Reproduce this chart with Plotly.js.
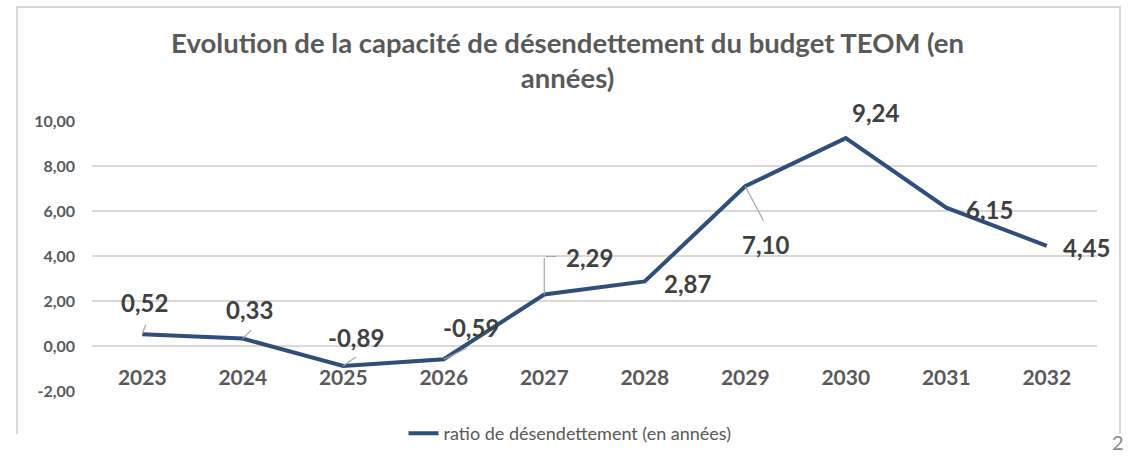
<!DOCTYPE html>
<html>
<head>
<meta charset="utf-8">
<script src="https://cdn.plot.ly/plotly-3.0.1.min.js"></script>
<style>
  html, body { margin: 0; padding: 0; background: #ffffff; }
  #wrap { position: relative; width: 1129px; height: 457px; overflow: hidden; }
  #chart { position: absolute; left: 0; top: 0; width: 1129px; height: 457px; }
  #frame { position: absolute; left: 16px; top: 6px; width: 1101px; height: 426px;
           border: 2px solid #d9d9d9; border-bottom: none; pointer-events: none; }
  #pagenum { position: absolute; left: 1112px; top: 432px; font-family: Lato, sans-serif;
             font-size: 20px; color: #8a8a8a; line-height: 20px; }
  #err { position: absolute; left: 100px; top: 150px; color: red; font-size: 12px; }
</style>
</head>
<body>
<div id="wrap">
  <div id="chart"></div>
  <div id="frame"></div>
  <div id="pagenum">2</div>
  <div id="err"></div>
</div>
<script>
// ---- data ----
const years = ['2023', '2024', '2025', '2026', '2027', '2028', '2029', '2030', '2031', '2032'];
const ratio = [0.52, 0.33, -0.89, -0.59, 2.29, 2.87, 7.10, 9.24, 6.15, 4.45];
const seriesName = 'ratio de désendettement (en années)';
const titleText = 'Evolution de la capacité de désendettement du budget TEOM (en<br>années)';
const yTicks = [-2, 0, 2, 4, 6, 8, 10];

// ---- styling (label placement in pixels) ----
const labelShift = [[2, 32], [7, 29], [13, 29], [27, 32], [45, 37], [43, -2], [20, -58], [30, 26], [43, -2], [40, -2]];
const leader = [[4, -11], [10, -10], [14, -10], [25, -12], [0, -38], null, [19, 36], null, null, null];

const yMin = -2, yMax = 10;
const fmt = v => v.toFixed(2).replace('.', ',');

const FONT = 'Lato, "Open Sans", sans-serif';
const LINE_COLOR = '#2f4e7a';
const GRID = '#d9d9d9';
const LEADER = '#a6a6a6';

const trace = {
  type: 'scatter', mode: 'lines', x: years, y: ratio, name: seriesName,
  line: { color: LINE_COLOR, width: 4 }, hoverinfo: 'skip'
};

const annotations = [];
ratio.forEach((v, i) => {
  // x given as the category index on the category axis
  annotations.push({
    x: i, y: v, xref: 'x', yref: 'y', text: '<b>' + fmt(v) + '</b>', showarrow: false,
    xshift: labelShift[i][0], yshift: labelShift[i][1],
    font: { family: FONT, size: 24, color: '#404040' }
  });
  if (leader[i]) {
    annotations.push({
      x: i, y: v, xref: 'x', yref: 'y', text: '', showarrow: true,
      arrowhead: 0, arrowwidth: 1.2, arrowcolor: LEADER,
      ax: leader[i][0], ay: leader[i][1], standoff: 0
    });
  }
});
// horizontal part of the elbow leader for the 2027 label
annotations.push({
  x: 4, y: ratio[4], xref: 'x', yref: 'y', text: '', showarrow: true,
  arrowhead: 0, arrowwidth: 1.2, arrowcolor: LEADER,
  ax: -12, ay: 0, xshift: 12, yshift: 38, standoff: 0
});

const layout = {
  width: 1129, height: 457,
  margin: { l: 92, r: 32, t: 121, b: 66, pad: 0, autoexpand: false },
  paper_bgcolor: '#ffffff', plot_bgcolor: '#ffffff',
  font: { family: FONT, color: '#595959' },
  title: {
    text: '<b>' + titleText + '</b>', xref: 'container', x: 0.5027, xanchor: 'center',
    yref: 'container', y: 0.885, yanchor: 'top',
    font: { family: FONT, size: 27.5, color: '#595959' }
  },
  xaxis: {
    type: 'category', range: [-0.5, years.length - 0.5], automargin: false,
    anchor: 'free', position: (0 - yMin) / (yMax - yMin),
    showgrid: false, zeroline: false, showline: false, ticks: '',
    ticklabelstandoff: 17,
    tickfont: { family: FONT, size: 21, color: '#595959', weight: 700 }
  },
  yaxis: {
    range: [yMin, yMax], tickmode: 'array', tickvals: yTicks, ticktext: yTicks.map(fmt),
    showgrid: true, gridcolor: GRID, gridwidth: 1.5, zeroline: false, showline: false,
    ticks: '', ticklabelstandoff: 16, automargin: false,
    tickfont: { family: FONT, size: 16, color: '#595959', weight: 700 }
  },
  showlegend: true,
  legend: {
    orientation: 'h', x: 0.31, xanchor: 'left', y: -0.158, yanchor: 'middle',
    font: { family: FONT, size: 18, color: '#595959' }, bgcolor: 'rgba(0,0,0,0)'
  },
  annotations: annotations
};

Plotly.newPlot('chart', [trace], layout, { staticPlot: true, displayModeBar: false })
  .catch(e => { document.getElementById('err').textContent = String(e && e.stack || e); });
</script>
</body>
</html>
